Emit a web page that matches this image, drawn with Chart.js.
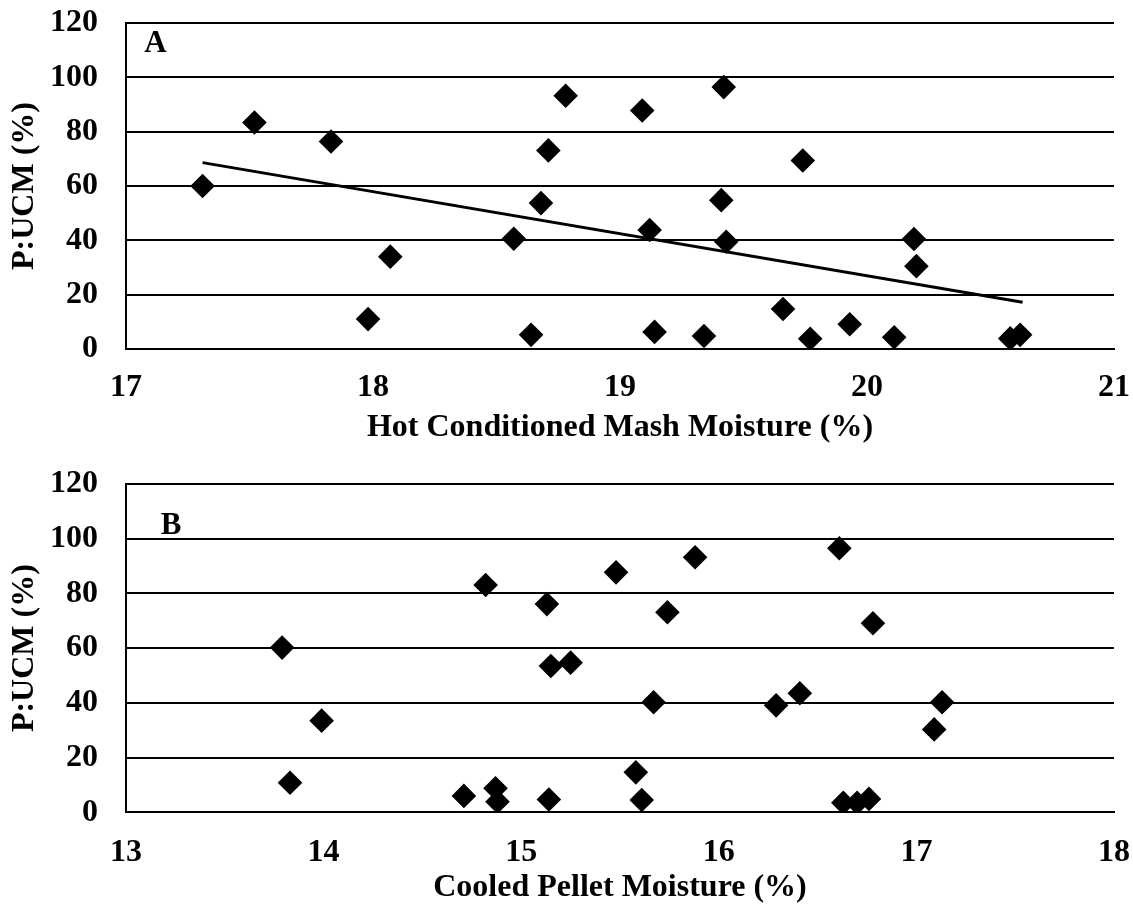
<!DOCTYPE html>
<html>
<head>
<meta charset="utf-8">
<script src="https://cdn.jsdelivr.net/npm/chart.js@4/dist/chart.umd.min.js"></script>
<style>
  html, body { margin: 0; padding: 0; background: #fff; overflow: hidden; }
  .panel { position: absolute; left: 0; width: 1133px; }
  #panelA { top: 0; height: 450px; }
  #panelB { top: 450px; height: 455px; }
</style>
</head>
<body>
<div class="panel" id="panelA"><canvas id="chartA"></canvas></div>
<div class="panel" id="panelB"><canvas id="chartB"></canvas></div>
<script>
// Panel A: P:UCM vs hot conditioned mash moisture
const hotMashMoisture = [17.31, 17.52, 17.83, 17.98, 18.07, 18.57, 18.64, 18.68, 18.71, 18.78, 19.09, 19.12, 19.14, 19.34, 19.41, 19.42, 19.43, 19.66, 19.74, 19.77, 19.93, 20.11, 20.19, 20.20, 20.58, 20.62];
const pucmA = [60.0, 83.4, 76.4, 11.0, 34.0, 40.6, 5.2, 53.7, 73.1, 93.2, 87.8, 43.8, 6.3, 4.8, 54.8, 96.4, 39.5, 14.7, 69.4, 3.8, 9.1, 4.3, 40.5, 30.5, 3.9, 5.2];
// Linear trend line for panel A (end points)
const trendMoistureA = [17.31, 20.63];
const trendPucmA = [68.6, 17.2];

// Panel B: P:UCM vs cooled pellet moisture
const cooledPelletMoisture = [13.79, 13.83, 13.99, 14.71, 14.82, 14.87, 14.88, 15.13, 15.14, 15.15, 15.25, 15.48, 15.58, 15.61, 15.67, 15.74, 15.88, 16.29, 16.41, 16.61, 16.63, 16.70, 16.76, 16.78, 17.09, 17.13];
const pucmB = [60.2, 10.8, 33.5, 6.0, 83.1, 8.8, 3.9, 76.1, 4.7, 53.5, 54.7, 87.7, 14.6, 4.5, 40.2, 73.1, 93.2, 39.1, 43.5, 96.5, 3.5, 3.5, 4.9, 69.1, 30.3, 40.2];

const yTicks = [0, 20, 40, 60, 80, 100, 120];
const xTicksA = [17, 18, 19, 20, 21];
const xTicksB = [13, 14, 15, 16, 17, 18];

const FONT = '"Liberation Serif", "Times New Roman", serif';

const toPoints = (xs, ys) => xs.map((x, i) => ({ x: x, y: ys[i] }));

// Draws the panel letter inside the plot area
const panelLetter = {
  id: 'panelLetter',
  afterDraw(chart, args, opts) {
    const { ctx, chartArea } = chart;
    ctx.save();
    ctx.font = 'bold 31px ' + FONT;
    ctx.fillStyle = '#000';
    ctx.textAlign = 'center';
    ctx.textBaseline = 'alphabetic';
    ctx.fillText(opts.text, chartArea.left + opts.dx, chartArea.top + opts.dy);
    ctx.restore();
  }
};

function makeChart(canvasId, cfg) {
  const datasets = [{
    label: 'P:UCM',
    data: toPoints(cfg.xs, cfg.ys),
    pointStyle: 'rectRot',
    pointRadius: 12.3,
    pointHoverRadius: 12.3,
    backgroundColor: '#000',
    borderColor: '#000',
    borderWidth: 0,
    order: 2
  }];
  if (cfg.trendX) {
    datasets.push({
      label: 'Trend',
      data: toPoints(cfg.trendX, cfg.trendY),
      showLine: true,
      pointRadius: 0,
      borderColor: '#000',
      borderWidth: 3,
      fill: false,
      order: 1
    });
  }
  return new Chart(document.getElementById(canvasId), {
    type: 'scatter',
    data: { datasets },
    plugins: [panelLetter],
    options: {
      responsive: true,
      maintainAspectRatio: false,
      animation: false,
      events: [],
      layout: { padding: { top: cfg.padTop, right: 19, left: 0, bottom: 0 } },
      plugins: {
        legend: { display: false },
        tooltip: { enabled: false },
        panelLetter: cfg.letter
      },
      scales: {
        x: {
          type: 'linear',
          min: cfg.xTicks[0],
          max: cfg.xTicks[cfg.xTicks.length - 1],
          afterBuildTicks: (s) => { s.ticks = cfg.xTicks.map(v => ({ value: v })); },
          afterFit: (s) => { s.height = cfg.xAxisHeight; s.paddingLeft = 0; s.paddingRight = 0; },
          grid: { display: true, color: 'rgba(0,0,0,0)', drawTicks: false },
          border: { display: true, color: '#000', width: 2 },
          ticks: {
            color: '#000',
            padding: cfg.xTickPad,
            maxRotation: 0,
            autoSkip: false,
            font: { family: FONT, size: 32, weight: 'bold', lineHeight: 1 }
          },
          title: {
            display: true,
            text: cfg.xTitle,
            color: '#000',
            padding: { top: 0, bottom: cfg.xTitlePad },
            font: { family: FONT, size: 32, weight: 'bold', lineHeight: 1 }
          }
        },
        y: {
          type: 'linear',
          min: 0,
          max: 120,
          afterBuildTicks: (s) => { s.ticks = yTicks.map(v => ({ value: v })); },
          afterFit: (s) => { s.width = 126; s.paddingTop = 0; s.paddingBottom = 0; },
          grid: { color: '#000', lineWidth: 2, drawTicks: false },
          border: { display: true, color: '#000', width: 2 },
          ticks: {
            color: '#000',
            padding: 28,
            font: { family: FONT, size: 32, weight: 'bold', lineHeight: 1 }
          },
          title: {
            display: true,
            text: 'P:UCM (%)',
            color: '#000',
            padding: { top: 9, bottom: 0 },
            font: { family: FONT, size: 32, weight: 'bold', lineHeight: 1 }
          }
        }
      }
    }
  });
}

makeChart('chartA', {
  xs: hotMashMoisture, ys: pucmA,
  trendX: trendMoistureA, trendY: trendPucmA,
  xTicks: xTicksA,
  xTitle: 'Hot Conditioned Mash Moisture (%)',
  padTop: 23, xAxisHeight: 101, xTickPad: 22.5, xTitlePad: 6.5,
  letter: { text: 'A', dx: 29.5, dy: 28.7 }
});

makeChart('chartB', {
  xs: cooledPelletMoisture, ys: pucmB,
  xTicks: xTicksB,
  xTitle: 'Cooled Pellet Moisture (%)',
  padTop: 34, xAxisHeight: 92.7, xTickPad: 24.2, xTitlePad: 1.5,
  letter: { text: 'B', dx: 45, dy: 50.3 }
});
</script>
</body>
</html>
